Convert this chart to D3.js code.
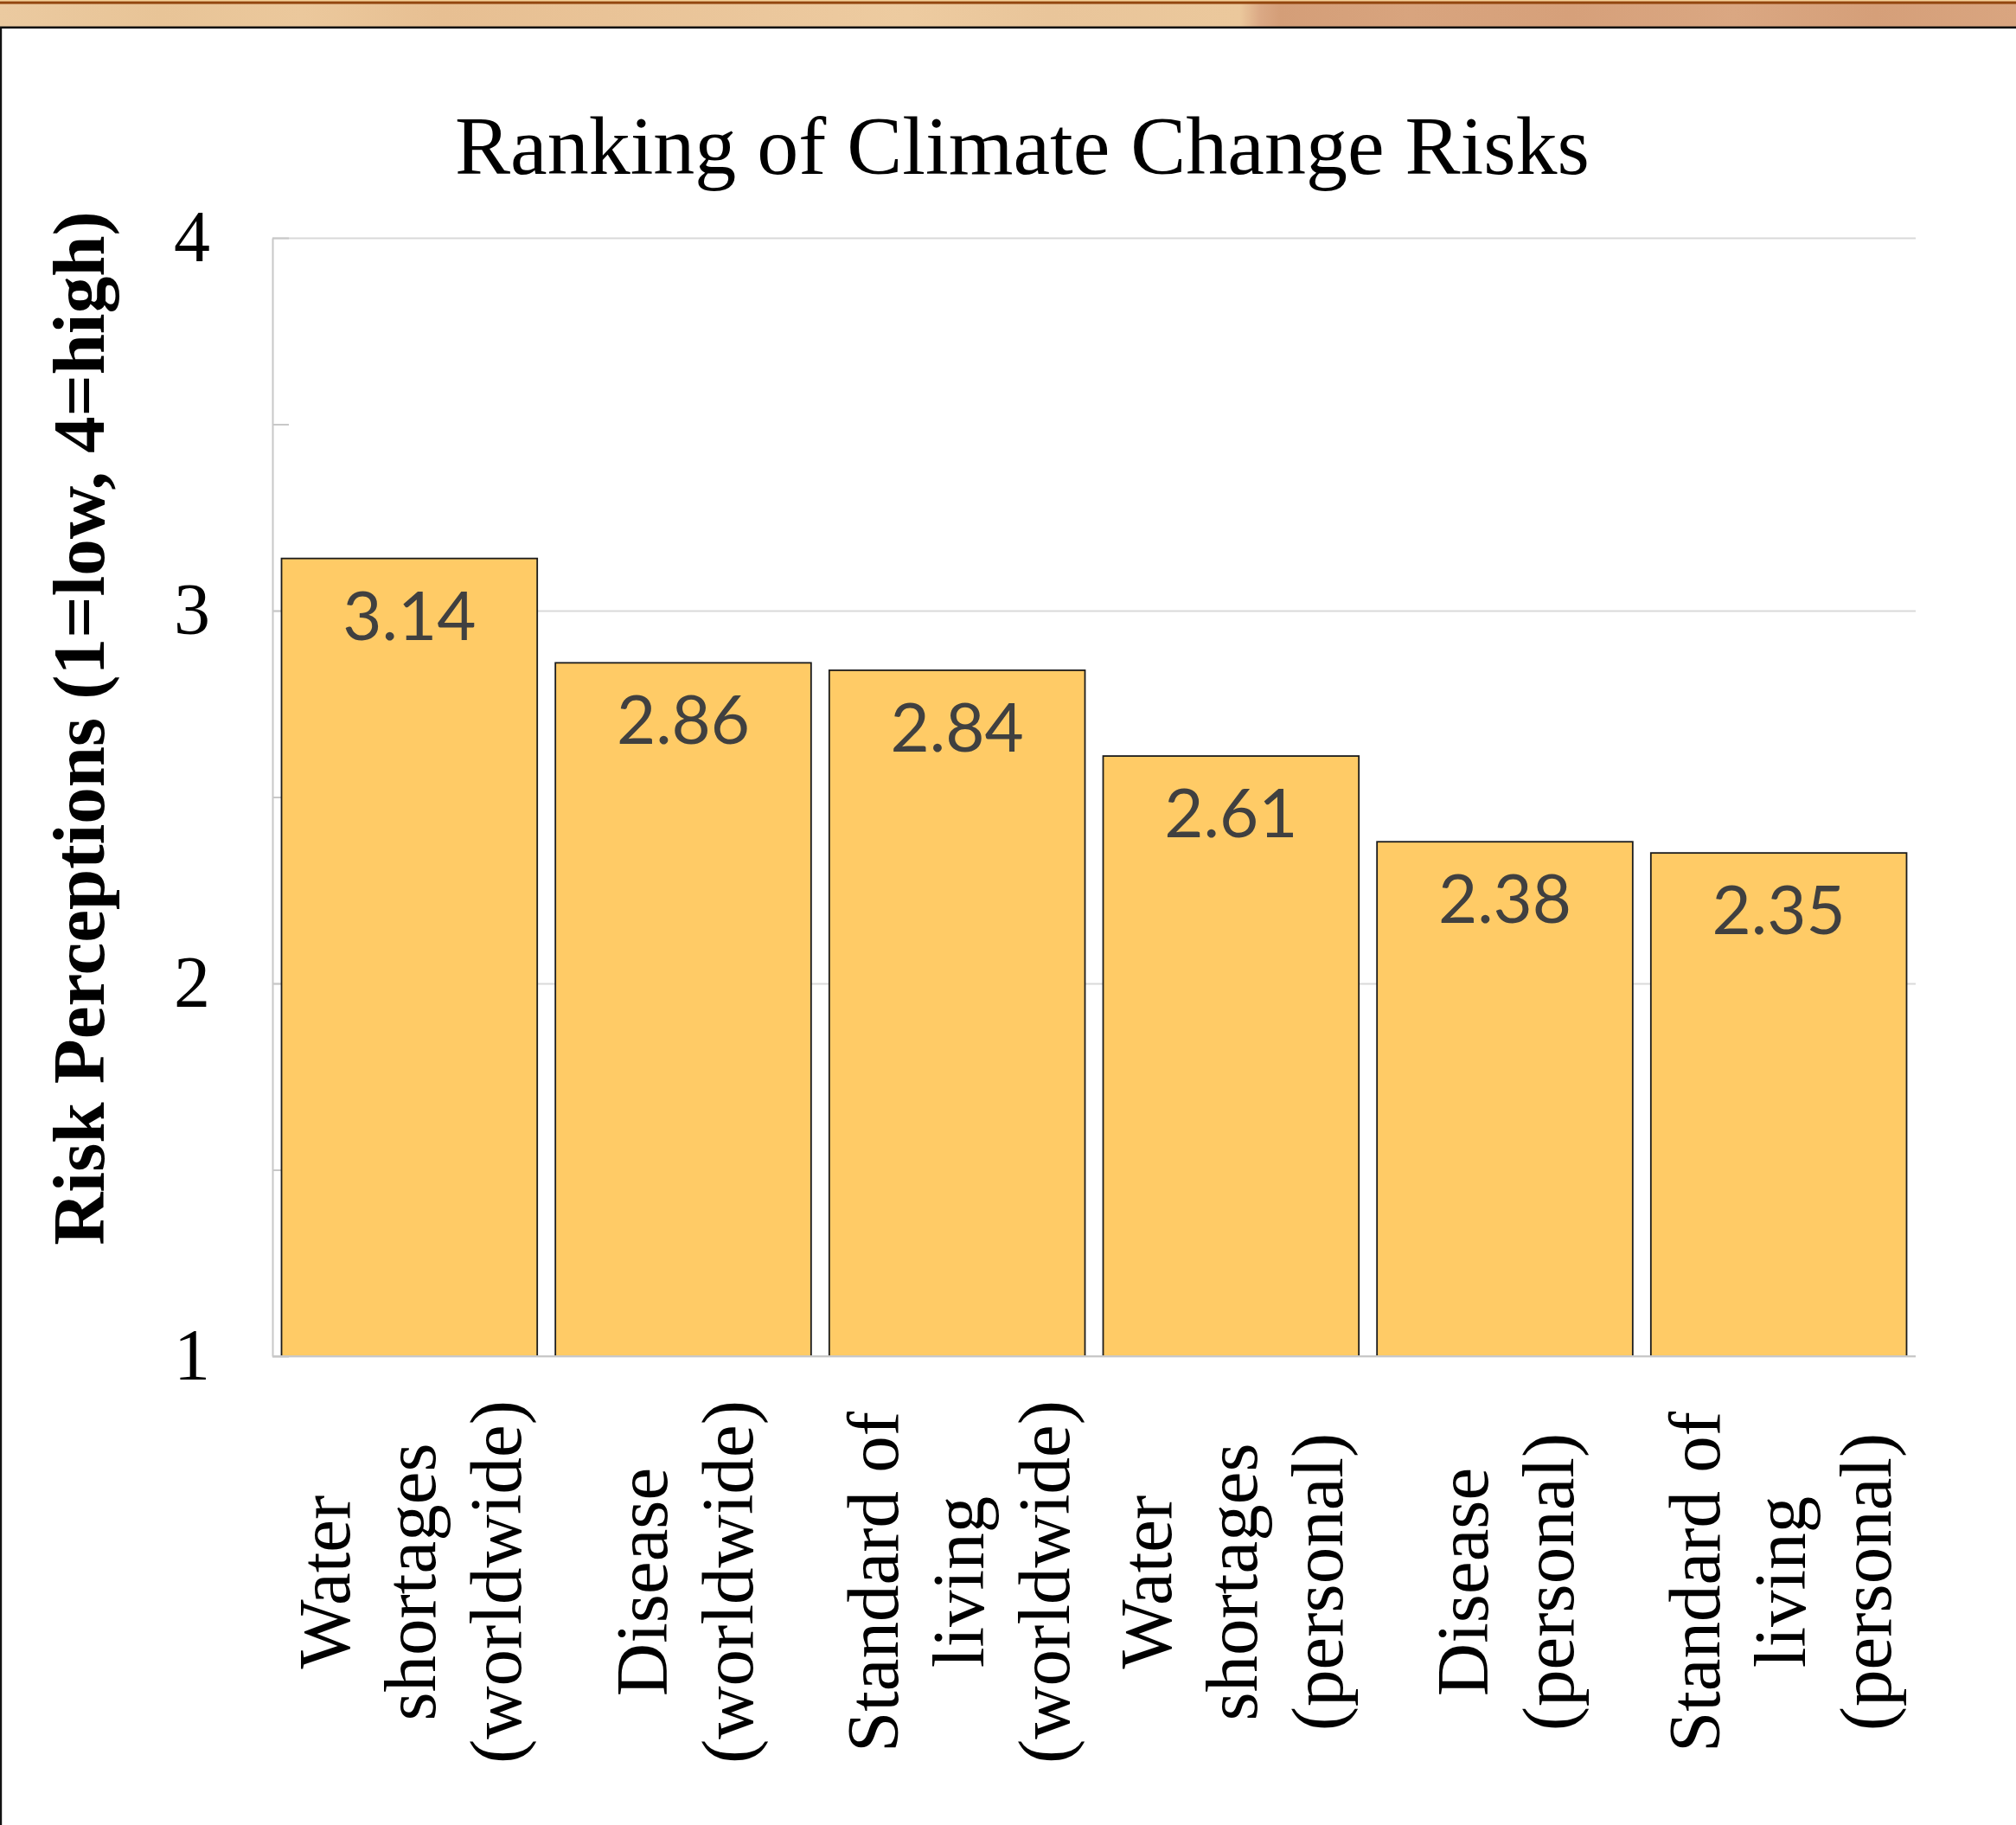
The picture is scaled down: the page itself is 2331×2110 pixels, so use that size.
<!DOCTYPE html>
<html>
<head>
<meta charset="utf-8">
<script src="https://cdn.jsdelivr.net/npm/d3@7"></script>
<style>
  html, body { margin: 0; padding: 0; background: #ffffff; }
  svg { display: block; }
</style>
</head>
<body>
<div id="chart"></div>
<script>
// ---- Data ----
const categories = [
  "Water shortages (worldwide)",
  "Disease (worldwide)",
  "Standard of living (worldwide)",
  "Water shortages (personal)",
  "Disease (personal)",
  "Standard of living (personal)"
];
const categoryLines = [
  ["Water", "shortages", "(worldwide)"],
  ["Disease", "(worldwide)"],
  ["Standard of", "living", "(worldwide)"],
  ["Water", "shortages", "(personal)"],
  ["Disease", "(personal)"],
  ["Standard of", "living", "(personal)"]
];
const values = [3.14, 2.86, 2.84, 2.61, 2.38, 2.35];
const valueLabels = ["3.14", "2.86", "2.84", "2.61", "2.38", "2.35"];
const yTickValues = [1, 2, 3, 4];
const yMinorTickValues = [1, 1.5, 2, 2.5, 3, 3.5, 4];
const chartTitle = "Ranking of Climate Change Risks";
const yAxisTitle = "Risk Perceptions (1=low, 4=high)";

// ---- Layout ----
const W = 2331, H = 2110;
const plot = { left: 315, right: 2215, top: 275, bottom: 1568 };

const svg = d3.select("#chart").append("svg")
  .attr("width", W).attr("height", H)
  .attr("viewBox", `0 0 ${W} ${H}`);

// background
svg.append("rect").attr("width", W).attr("height", H).attr("fill", "#ffffff");

// ---- Decorative wood strip at top ----
const defs = svg.append("defs");
const wood = defs.append("linearGradient").attr("id", "wood")
  .attr("x1", "0").attr("x2", "1").attr("y1", "0").attr("y2", "0");
[
  [0.00, "#ebcaa0"], [0.08, "#e8c497"], [0.15, "#ebc89c"], [0.22, "#e7bf92"],
  [0.30, "#e9c397"], [0.38, "#ebc79c"], [0.45, "#edcba0"], [0.52, "#e9c59a"],
  [0.615, "#ebc89c"], [0.625, "#dba985"], [0.635, "#d49e78"], [0.70, "#d8a47e"],
  [0.78, "#d6a07a"], [0.86, "#daa782"], [0.93, "#d59f79"], [1.00, "#d9a580"]
].forEach(([o, c]) => wood.append("stop").attr("offset", o).attr("stop-color", c));

svg.append("rect").attr("x", 0).attr("y", 0).attr("width", W).attr("height", 31).attr("fill", "url(#wood)");
svg.append("rect").attr("x", 0).attr("y", 0).attr("width", W).attr("height", 1.6).attr("fill", "#f3cf95");
svg.append("rect").attr("x", 0).attr("y", 1.6).attr("width", W).attr("height", 3).attr("fill", "#93470f");
svg.append("rect").attr("x", 0).attr("y", 30.5).attr("width", W).attr("height", 2.5).attr("fill", "#111111");
svg.append("rect").attr("x", 0).attr("y", 31).attr("width", 2.2).attr("height", H - 31).attr("fill", "#111111");

// ---- Scales ----
const x = d3.scaleBand()
  .domain(categories)
  .range([plot.left, plot.right])
  .paddingInner(0.0663)
  .paddingOuter(0.0332);

const y = d3.scaleLinear()
  .domain([1, 4])
  .range([plot.bottom, plot.top]);

// ---- Gridlines (integers) ----
const grid = svg.append("g")
  .attr("transform", `translate(${plot.left},0)`)
  .call(d3.axisLeft(y).tickValues(yTickValues).tickSize(-(plot.right - plot.left)).tickFormat(""));
grid.select(".domain").remove();
grid.selectAll(".tick line").attr("stroke", "#d9d9d9").attr("stroke-width", 2);

// ---- Minor tick marks (inside) ----
const ticks = svg.append("g")
  .attr("transform", `translate(${plot.left},0)`)
  .call(d3.axisLeft(y).tickValues(yMinorTickValues).tickSize(-19).tickSizeOuter(0).tickFormat(""));
ticks.select(".domain").attr("stroke", "#c8c8c8").attr("stroke-width", 2);
ticks.selectAll(".tick line").attr("stroke", "#c8c8c8").attr("stroke-width", 2);

// ---- Y tick labels ----
const yLabels = svg.append("g")
  .attr("transform", `translate(${plot.left},0)`)
  .call(d3.axisLeft(y).tickValues(yTickValues).tickSize(0).tickPadding(72).tickFormat(d3.format("d")));
yLabels.select(".domain").remove();
yLabels.selectAll(".tick text")
  .attr("font-family", "'Liberation Serif', 'Times New Roman', serif")
  .attr("font-size", 84)
  .attr("fill", "#000000")
  .attr("dy", "0.32em");

// ---- Bars ----
svg.append("g").selectAll("rect.bar")
  .data(values)
  .join("rect")
  .attr("class", "bar")
  .attr("x", (d, i) => x(categories[i]))
  .attr("y", d => y(d))
  .attr("width", x.bandwidth())
  .attr("height", d => y(1) - y(d))
  .attr("fill", "#ffcb66")
  .attr("stroke", "#1c1c1c")
  .attr("stroke-width", 1.8);

// ---- Bottom axis line ----
svg.append("line")
  .attr("x1", plot.left).attr("x2", plot.right)
  .attr("y1", y(1)).attr("y2", y(1))
  .attr("stroke", "#c8c8c8").attr("stroke-width", 2);

// ---- Value labels ----
svg.append("g").selectAll("text.val")
  .data(values)
  .join("text")
  .attr("class", "val")
  .attr("x", (d, i) => x(categories[i]) + x.bandwidth() / 2)
  .attr("y", d => y(d) + 94)
  .attr("text-anchor", "middle")
  .attr("font-family", "Lato, 'Open Sans', sans-serif")
  .attr("font-size", 78)
  .attr("fill", "#404040")
  .text((d, i) => valueLabels[i]);

// ---- Category labels (rotated, multi-line) ----
const lineGap = 99;
const labelCenterY = 1829;
const catG = svg.append("g");
categories.forEach((c, i) => {
  const lines = categoryLines[i];
  const cx = x(c) + x.bandwidth() / 2;
  const n = lines.length;
  lines.forEach((ln, j) => {
    const bx = cx + 30 + (j - (n - 1) / 2) * lineGap;
    catG.append("text")
      .attr("transform", `translate(${bx},${labelCenterY}) rotate(-90)`)
      .attr("text-anchor", "middle")
      .attr("font-family", "'Liberation Serif', 'Times New Roman', serif")
      .attr("font-size", 85)
      .attr("fill", "#000000")
      .text(ln);
  });
});

// ---- Title ----
svg.append("text")
  .attr("x", 1182).attr("y", 201)
  .attr("text-anchor", "middle")
  .attr("font-family", "'Liberation Serif', 'Times New Roman', serif")
  .attr("font-size", 96)
  .attr("fill", "#000000")
  .text(chartTitle);

// ---- Y axis title ----
svg.append("text")
  .attr("transform", `translate(120,842) rotate(-90)`)
  .attr("text-anchor", "middle")
  .attr("font-family", "'Liberation Serif', 'Times New Roman', serif")
  .attr("font-weight", "bold")
  .attr("font-size", 85)
  .attr("fill", "#000000")
  .text(yAxisTitle);
</script>
</body>
</html>
